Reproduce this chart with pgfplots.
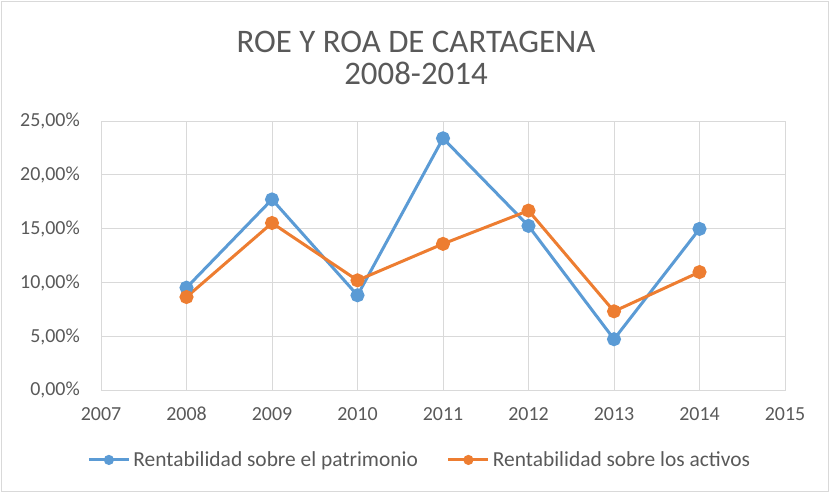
\documentclass[border=0pt]{standalone}
\usepackage{pgfplots}
\pgfplotsset{compat=1.18}
\usepackage{fontspec}
\setmainfont{Carlito}
\definecolor{roe}{HTML}{5B9BD5}
\definecolor{roa}{HTML}{ED7D31}
\definecolor{gridc}{HTML}{D9D9D9}
\definecolor{txt}{HTML}{595959}
\begin{document}
\begin{tikzpicture}[x=1bp,y=1bp]
\useasboundingbox (0,0) rectangle (830,493);
\draw[gridc, line width=0.8bp] (1.5,1.5) rectangle (828.5,491.5);
\node[anchor=base, font=\fontsize{33}{36}\selectfont, text=txt, inner sep=0] at (416,493-53) {ROE Y ROA DE CARTAGENA};
\node[anchor=base, font=\fontsize{33}{36}\selectfont, text=txt, inner sep=0] at (416,493-85) {2008-2014};
\begin{axis}[
  at={(101bp,103bp)}, anchor=south west,
  scale only axis, width=684bp, height=269bp,
  xmin=2007, xmax=2015, ymin=0, ymax=25,
  xtick={2007,2008,...,2015},
  xticklabels={2007,2008,2009,2010,2011,2012,2013,2014,2015},
  ytick={0,5,10,15,20,25},
  yticklabels={{0,00\%},{5,00\%},{10,00\%},{15,00\%},{20,00\%},{25,00\%}},
  major tick length=0,
  grid=major,
  grid style={gridc, line width=0.9bp},
  axis line style={gridc, line width=0.9bp},
  tick label style={font=\fontsize{20}{22}\selectfont, text=txt, inner sep=0},
  xticklabel style={anchor=base, yshift=-31bp},
  yticklabel style={anchor=base east, xshift=-21bp, yshift=-6bp},
  legend columns=2,
  legend style={at={(0.466,-0.26)}, anchor=center, draw=none, fill=none,
    font=\fontsize{21.5}{24}\selectfont, text=txt, inner sep=0,
    /tikz/every odd column/.style={column sep=1bp},
    /tikz/column 2/.style={column sep=27bp}},
  legend image code/.code={\draw[mark repeat=2,mark phase=2,#1,mark size=3.5bp] plot coordinates {(0bp,0bp)(20bp,0bp)(40bp,0bp)};},
]
\addplot[roe, line width=3bp, mark=*, mark size=5.5bp, mark options={solid}] coordinates {
  (2008,9.51) (2009,17.71) (2010,8.80) (2011,23.39) (2012,15.25) (2013,4.72) (2014,14.97)};
\addlegendentry{Rentabilidad sobre el patrimonio}
\addplot[roa, line width=3bp, mark=*, mark size=5.5bp, mark options={solid}] coordinates {
  (2008,8.64) (2009,15.52) (2010,10.19) (2011,13.58) (2012,16.67) (2013,7.31) (2014,10.96)};
\addlegendentry{Rentabilidad sobre los activos}
\end{axis}
\end{tikzpicture}
\end{document}
